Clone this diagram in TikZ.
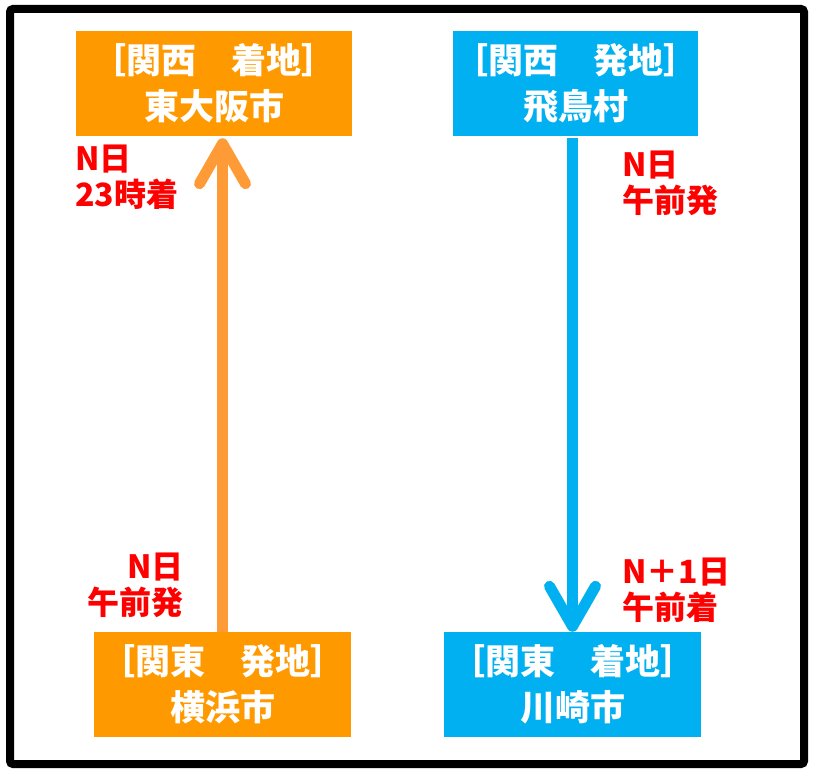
\documentclass[tikz,border=0pt]{standalone}
\usepackage{fontspec}
\setmainfont{Noto Sans CJK JP}
\usetikzlibrary{arrows.meta}
\definecolor{boxorange}{RGB}{255,153,0}
\definecolor{arroworange}{RGB}{255,155,55}
\definecolor{boxblue}{RGB}{0,176,240}
\definecolor{labelred}{RGB}{255,0,0}
\tikzset{
  place/.style={draw=none,inner sep=0pt,text=white,align=center,
    font=\fontsize{35}{46}\selectfont\bfseries},
  obox/.style={place,fill=boxorange},
  bbox/.style={place,fill=boxblue},
  timelabel/.style={inner sep=0pt,text=labelred,
    font=\fontsize{32}{36}\selectfont\bfseries},
  flow/.style={line width=11pt,
    -{Straight Barb[length=40pt,width=46pt,round]}},
}
\begin{document}
\begin{tikzpicture}[x=1pt,y=-1pt]
\useasboundingbox (0,0) rectangle (816,768);
\draw[line width=8pt,rounded corners=3pt] (10,9) rectangle (804,764);
\node[obox,minimum width=276pt,minimum height=105pt] (kw) at (214,83.5) {［関西　着地］\\東大阪市};
\node[bbox,minimum width=243pt,minimum height=105pt] (kwb) at (575.5,83.5) {［関西　発地］\\飛鳥村};
\node[obox,minimum width=257pt,minimum height=105pt] (kt) at (222.5,684.5) {［関東　発地］\\横浜市};
\node[bbox,minimum width=257pt,minimum height=105pt] (ktb) at (572.5,684.5) {［関東　着地］\\川崎市};
\draw[flow,draw=arroworange,shorten >=2pt] (kt.north) -- (kt.north |- kw.south);
\draw[flow,draw=boxblue,shorten <=2pt] (ktb.north |- kwb.south) -- (ktb.north);
\node[timelabel,align=left,anchor=north west] (l1) at (75,145) {N日\\23時着};
\node[timelabel,align=left,anchor=north west] (r1) at (622,151) {N日\\午前発};
\node[timelabel,align=right,anchor=north east] (l2) at (184,553) {N日\\午前発};
\node[timelabel,align=left,anchor=north west] (r2) at (622,558) {N＋1日\\午前着};
\end{tikzpicture}
\end{document}
